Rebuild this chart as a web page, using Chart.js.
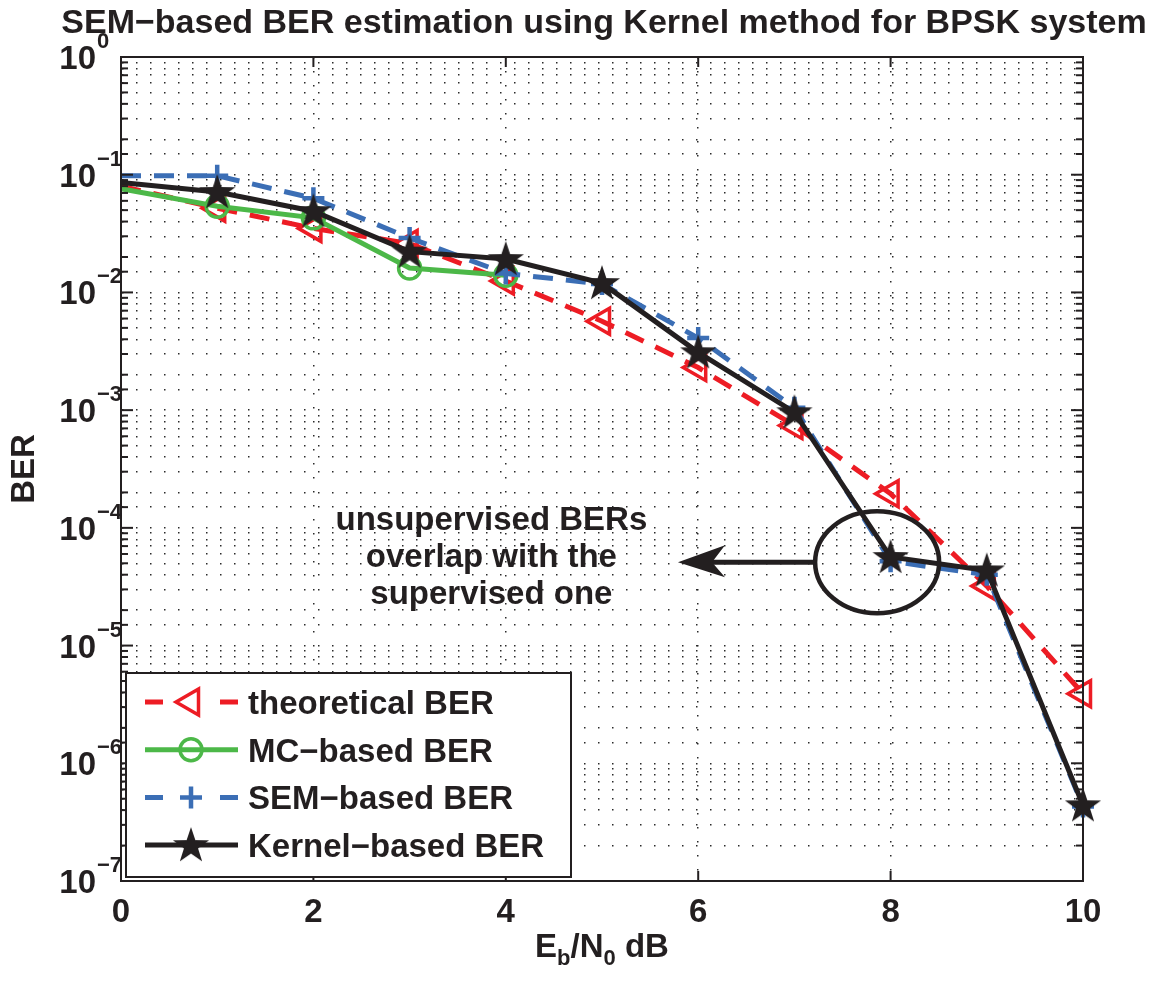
<!DOCTYPE html>
<html lang="en">
<head>
<meta charset="UTF-8">
<title>SEM-based BER estimation</title>
<script src="https://cdn.jsdelivr.net/npm/chart.js"></script>
<style>
  body { margin: 0; background: #fff; }
</style>
</head>
<body>
<canvas id="berChart" width="1165" height="981"></canvas>
<script>
// Eb/N0 in dB and the four BER curves
const ebno = [0, 1, 2, 3, 4, 5, 6, 7, 8, 9, 10];
const theoreticalBer = [0.08, 0.052, 0.035, 0.026, 0.0125, 0.0057, 0.0023, 0.00074, 0.000195, 0.000032, 0.0000039];
const mcBer = [0.076, 0.054, 0.043, 0.0161, 0.014];
const semBer = [0.098, 0.098, 0.063, 0.029, 0.0145, 0.0118, 0.0041, 0.00105, 0.000052, 0.00004, 0.00000043];
const kernelBer = [0.086, 0.0713, 0.049, 0.0222, 0.0192, 0.012, 0.0031, 0.00096, 0.0000565, 0.0000435, 0.00000044];

const xTicks = [0, 2, 4, 6, 8, 10];
const yExponents = [0, -1, -2, -3, -4, -5, -6, -7];

const titleText = 'SEM\u2212based BER estimation using Kernel method for BPSK system';
const legendLabels = ['theoretical BER', 'MC\u2212based BER', 'SEM\u2212based BER', 'Kernel\u2212based BER'];
const noteLines = ['unsupervised BERs', 'overlap with the', 'supervised one'];
const noteCircle = { x: 7.86, y: 5.1e-5 };
const noteArrowTip = 5.79;
const noteTextX = 3.85;

const INK = '#231f20';
const RED = '#ed1c24';
const GREEN = '#4cb848';
const BLUE = '#3b6eb5';
const FONT = '"Liberation Sans", Arial, Helvetica, sans-serif';

function makeStar(size, color) {
  const c = document.createElement('canvas');
  c.width = size; c.height = size;
  const g = c.getContext('2d');
  const R = size / 2 - 1, r = R * 0.39;
  g.beginPath();
  for (let i = 0; i < 10; i++) {
    const a = -Math.PI / 2 + i * Math.PI / 5;
    const rr = i % 2 ? r : R;
    g.lineTo(size / 2 + rr * Math.cos(a), size / 2 + 1 + rr * Math.sin(a));
  }
  g.closePath();
  g.fillStyle = color;
  g.fill();
  return c;
}
const starImg = makeStar(40, INK);

function pts(vals) { return vals.map((v, i) => ({ x: ebno[i], y: v })); }
// no marker on the first point (x = 0), like the original
function radii(n, r) { return Array.from({ length: n }, (_, i) => i === 0 ? 0 : r); }

const datasets = [
  {
    label: legendLabels[0], data: pts(theoreticalBer),
    borderColor: RED, borderWidth: 5, borderDash: [20, 13],
    pointStyle: 'triangle', pointRotation: -90, pointRadius: radii(11, 15),
    pointBorderColor: RED, pointBackgroundColor: 'rgba(255,255,255,0)', pointBorderWidth: 3.5,
    order: 4
  },
  {
    label: legendLabels[1], data: pts(mcBer),
    borderColor: GREEN, borderWidth: 5,
    pointStyle: 'circle', pointRadius: radii(5, 11),
    pointBorderColor: GREEN, pointBackgroundColor: 'rgba(255,255,255,0)', pointBorderWidth: 3.5,
    order: 3
  },
  {
    label: legendLabels[2], data: pts(semBer),
    borderColor: BLUE, borderWidth: 5, borderDash: [20, 13],
    pointStyle: 'cross', pointRadius: radii(11, 11),
    pointBorderColor: BLUE, pointBorderWidth: 4.5,
    order: 2
  },
  {
    label: legendLabels[3], data: pts(kernelBer),
    borderColor: INK, borderWidth: 5,
    pointStyle: starImg, pointRadius: radii(11, 15),
    order: 1
  }
];
datasets.forEach(d => { d.clip = false; d.tension = 0; d.fill = false; d.borderCapStyle = 'butt'; });

function line(ctx, x1, y1, x2, y2) {
  ctx.beginPath(); ctx.moveTo(x1, y1); ctx.lineTo(x2, y2); ctx.stroke();
}

function drawMarker(ctx, ds, x, y) {
  ctx.save();
  if (ds.pointStyle === starImg) {
    ctx.drawImage(starImg, x - 20, y - 20);
  } else {
    ctx.strokeStyle = ds.pointBorderColor;
    ctx.lineWidth = ds.pointBorderWidth;
    ctx.setLineDash([]);
    ctx.beginPath();
    if (ds.pointStyle === 'triangle') {
      const r = 15;
      ctx.moveTo(x - r, y);
      ctx.lineTo(x + r / 2, y - r * Math.sqrt(3) / 2);
      ctx.lineTo(x + r / 2, y + r * Math.sqrt(3) / 2);
      ctx.closePath();
    } else if (ds.pointStyle === 'circle') {
      ctx.arc(x, y, 11, 0, Math.PI * 2);
    } else {
      ctx.moveTo(x - 11, y); ctx.lineTo(x + 11, y);
      ctx.moveTo(x, y - 11); ctx.lineTo(x, y + 11);
    }
    ctx.stroke();
  }
  ctx.restore();
}

// text with sub/superscript pieces, centred on cx
function drawRuns(ctx, runs, cx, baseline) {
  let w = 0;
  runs.forEach(r => { ctx.font = 'bold ' + r.size + 'px ' + FONT; r.w = ctx.measureText(r.t).width; w += r.w; });
  let x = cx - w / 2;
  ctx.textAlign = 'left';
  ctx.textBaseline = 'alphabetic';
  runs.forEach(r => {
    ctx.font = 'bold ' + r.size + 'px ' + FONT;
    ctx.fillText(r.t, x, baseline + (r.dy || 0));
    x += r.w;
  });
}

const decoPlugin = {
  id: 'deco',
  afterDraw(chart) {
    const { ctx, chartArea: a, scales: { x, y } } = chart;
    ctx.save();
    ctx.strokeStyle = INK;
    ctx.fillStyle = INK;
    ctx.lineWidth = 2;
    ctx.setLineDash([]);

    // inward tick marks on all four sides
    y.ticks.forEach(t => {
      const py = y.getPixelForValue(t.value);
      const lg = Math.log10(t.value);
      const len = Math.abs(lg - Math.round(lg)) < 1e-6 ? 12 : 7;
      line(ctx, a.left, py, a.left + len, py);
      line(ctx, a.right, py, a.right - len, py);
    });
    xTicks.forEach(v => {
      const px = x.getPixelForValue(v);
      line(ctx, px, a.bottom, px, a.bottom - 10);
      line(ctx, px, a.top, px, a.top + 10);
    });
    ctx.strokeRect(a.left, a.top, a.right - a.left, a.bottom - a.top);

    // tick labels
    ctx.textBaseline = 'alphabetic';
    yExponents.forEach(e => {
      const py = y.getPixelForValue(Math.pow(10, e));
      ctx.font = 'bold 33px ' + FONT;
      ctx.textAlign = 'right';
      ctx.fillText('10', 96, py + 12);
      ctx.font = 'bold 22px ' + FONT;
      ctx.textAlign = 'left';
      ctx.fillText(e === 0 ? '0' : '\u2212' + (-e), 97, py - 9);
    });
    ctx.font = 'bold 33px ' + FONT;
    ctx.textAlign = 'center';
    xTicks.forEach(v => {
      ctx.fillText(String(v), x.getPixelForValue(v), 922);
    });

    // title and axis titles
    ctx.font = 'bold 34px ' + FONT;
    ctx.fillText(titleText, 604, 33, 1088);
    drawRuns(ctx, [
      { t: 'E', size: 33 }, { t: 'b', size: 22, dy: 8 },
      { t: '/N', size: 33 }, { t: '0', size: 22, dy: 8 },
      { t: ' dB', size: 33 }
    ], 602, 957);
    ctx.save();
    ctx.translate(34, 469);
    ctx.rotate(-Math.PI / 2);
    ctx.font = 'bold 33px ' + FONT;
    ctx.textAlign = 'center';
    ctx.fillText('BER', 0, 0);
    ctx.restore();

    // annotation: ellipse, arrow and note
    const cx = x.getPixelForValue(noteCircle.x);
    const cy = y.getPixelForValue(noteCircle.y);
    ctx.lineWidth = 4.5;
    ctx.beginPath();
    ctx.ellipse(cx, cy, 62, 51, 0, 0, Math.PI * 2);
    ctx.stroke();
    const tip = x.getPixelForValue(noteArrowTip);
    ctx.lineWidth = 5;
    line(ctx, cx - 62, cy, tip + 30, cy);
    ctx.beginPath();
    ctx.moveTo(tip, cy);
    ctx.lineTo(tip + 47, cy - 17);
    ctx.lineTo(tip + 34, cy);
    ctx.lineTo(tip + 47, cy + 15);
    ctx.closePath();
    ctx.fill();
    ctx.font = 'bold 33px ' + FONT;
    ctx.textAlign = 'center';
    const tx = x.getPixelForValue(noteTextX);
    noteLines.forEach((s, i) => ctx.fillText(s, tx, cy - 32 + i * 37));

    // legend box
    const lx = 126, ly = 673, lw = 445, lh = 204;
    ctx.fillStyle = '#fff';
    ctx.fillRect(lx, ly, lw, lh);
    ctx.strokeStyle = INK;
    ctx.lineWidth = 2;
    ctx.strokeRect(lx, ly, lw, lh);
    chart.data.datasets.forEach((ds, i) => {
      const ry = 702 + i * 47.7;
      ctx.save();
      ctx.strokeStyle = ds.borderColor;
      ctx.lineWidth = ds.borderWidth;
      ctx.setLineDash(ds.borderDash ? [18, 57] : []);
      line(ctx, 145, ry, 238, ry);
      ctx.restore();
      drawMarker(ctx, ds, 191, ry);
      ctx.fillStyle = INK;
      ctx.font = 'bold 33px ' + FONT;
      ctx.textAlign = 'left';
      ctx.fillText(ds.label, 248, ry + 12);
    });
    ctx.restore();
  }
};

const dotted = [1.5, 12.5];

new Chart(document.getElementById('berChart').getContext('2d'), {
  type: 'line',
  data: { datasets: datasets },
  options: {
    responsive: false,
    animation: false,
    events: [],
    layout: { padding: { left: 121, top: 57, right: 82, bottom: 100 } },
    plugins: { legend: { display: false }, tooltip: { enabled: false }, title: { display: false } },
    scales: {
      x: {
        type: 'linear', min: 0, max: 10,
        ticks: { display: false, stepSize: 2, autoSkip: false },
        grid: { color: '#2a2a2a', lineWidth: 1.5, drawTicks: false },
        border: { display: true, color: INK, width: 2, dash: dotted },
        afterFit: s => { s.height = 0; }
      },
      y: {
        type: 'logarithmic', min: 1e-7, max: 1,
        ticks: { display: false, autoSkip: false },
        grid: { color: '#2a2a2a', lineWidth: 1.5, drawTicks: false },
        border: { display: true, color: INK, width: 2, dash: dotted },
        afterFit: s => { s.width = 0; }
      }
    }
  },
  plugins: [decoPlugin]
});
</script>
</body>
</html>
